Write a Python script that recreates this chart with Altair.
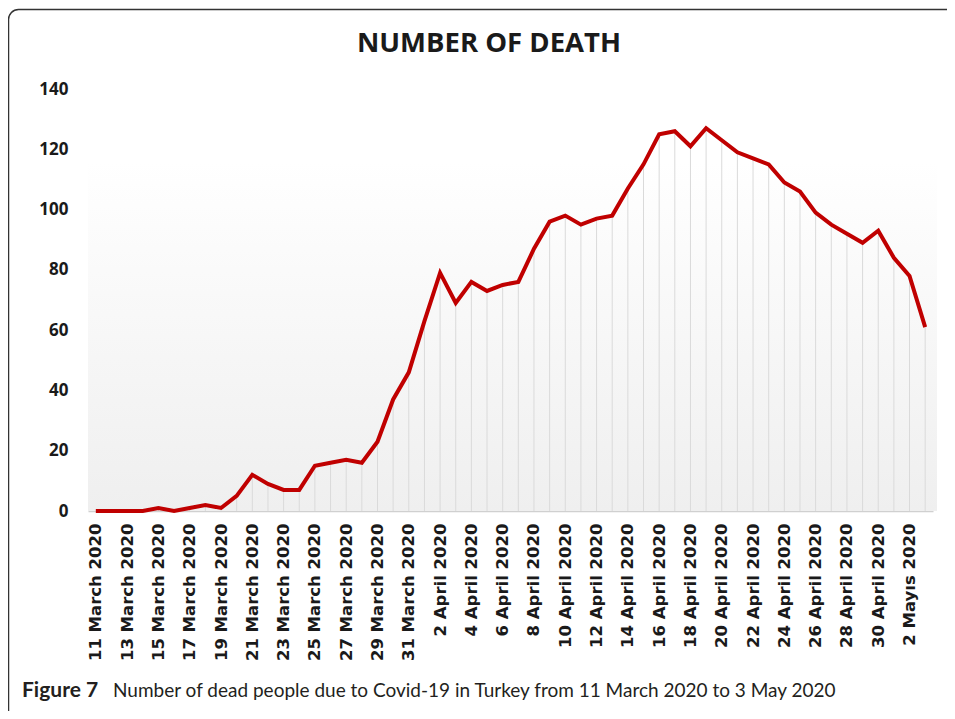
import altair as alt
import pandas as pd

days = [
    "11 March 2020", "12 March 2020", "13 March 2020", "14 March 2020", "15 March 2020",
    "16 March 2020", "17 March 2020", "18 March 2020", "19 March 2020", "20 March 2020",
    "21 March 2020", "22 March 2020", "23 March 2020", "24 March 2020", "25 March 2020",
    "26 March 2020", "27 March 2020", "28 March 2020", "29 March 2020", "30 March 2020",
    "31 March 2020", "1 April 2020", "2 April 2020", "3 April 2020", "4 April 2020",
    "5 April 2020", "6 April 2020", "7 April 2020", "8 April 2020", "9 April 2020",
    "10 April 2020", "11 April 2020", "12 April 2020", "13 April 2020", "14 April 2020",
    "15 April 2020", "16 April 2020", "17 April 2020", "18 April 2020", "19 April 2020",
    "20 April 2020", "21 April 2020", "22 April 2020", "23 April 2020", "24 April 2020",
    "25 April 2020", "26 April 2020", "27 April 2020", "28 April 2020", "29 April 2020",
    "30 April 2020", "1 Mayıs 2020", "2 Mayıs 2020", "3 Mayıs 2020",
]

deaths = [
    0, 0, 0, 0, 1, 0, 1, 2, 1, 5,
    12, 9, 7, 7, 15, 16, 17, 16, 23, 37,
    46, 63, 79, 69, 76, 73, 75, 76, 87, 96,
    98, 95, 97, 98, 107, 115, 125, 126, 121, 127,
    123, 119, 117, 115, 109, 106, 99, 95, 92, 89,
    93, 84, 78, 61,
]

shown_labels = days[::2]
y_ticks = [0, 20, 40, 60, 80, 100, 120, 140]

title_text = "NUMBER OF DEATH"
caption_bold = "Figure 7"
caption_text = "Number of dead people due to Covid-19 in Turkey from 11 March 2020 to 3 May 2020"

W, H = 845, 422

df = pd.DataFrame({"day": days, "deaths": deaths})
one = pd.DataFrame({"a": [0]})

x_enc = alt.X(
    "day:N",
    sort=days,
    scale=alt.Scale(type="point", padding=0.5),
    axis=alt.Axis(
        title=None,
        values=shown_labels,
        labelAngle=-90,
        labelFont="DejaVu Sans",
        labelFontWeight="bold",
        labelFontSize=16.5,
        labelColor="#1a1a1a",
        labelPadding=12,
        ticks=False,
        grid=False,
        domainColor="#d0d0d0",
        domainWidth=1.5,
        labelOverlap=False,
    ),
)
y_enc = alt.Y(
    "deaths:Q",
    scale=alt.Scale(domain=[0, 140], nice=False),
    axis=alt.Axis(
        title=None,
        values=y_ticks,
        labelFont="Open Sans",
        labelFontWeight="bold",
        labelFontSize=17,
        labelColor="#1a1a1a",
        labelPadding=20,
        ticks=False,
        grid=False,
        domain=False,
    ),
)

bg = alt.Chart(one).mark_rect(
    fill=alt.Gradient(
        gradient="linear",
        stops=[
            alt.GradientStop(color="#ffffff", offset=0),
            alt.GradientStop(color="#efefef", offset=1),
        ],
        x1=0, x2=0, y1=0, y2=1,
    )
).encode(x=alt.value(0), x2=alt.value(849), y=alt.value(72), y2=alt.value(H))

drops = alt.Chart(df).mark_rule(color="#dadada", strokeWidth=1).encode(
    x=x_enc, y=y_enc, y2=alt.datum(0)
)

line = alt.Chart(df).mark_line(color="#c00000", strokeWidth=4).encode(x=x_enc, y=y_enc)

title = alt.Chart(one).mark_text(
    text=title_text, font="Open Sans", fontWeight="bold", fontSize=27.5,
    color="#1a1a1a", align="center", baseline="alphabetic",
).encode(x=alt.value(401), y=alt.value(-37))

cap1 = alt.Chart(one).mark_text(
    text=caption_bold, font="Lato", fontWeight="bold", fontSize=21,
    color="#231f20", align="left", baseline="alphabetic",
).encode(x=alt.value(-66), y=alt.value(608))

cap2 = alt.Chart(one).mark_text(
    text=caption_text, font="Lato", fontSize=19,
    color="#231f20", align="left", baseline="alphabetic",
).encode(x=alt.value(25), y=alt.value(608))

frame = alt.Chart(one).mark_rect(
    fillOpacity=0, stroke="#333333", strokeWidth=1.5, cornerRadius=10
).encode(x=alt.value(-79.5), x2=alt.value(960), y=alt.value(-79.5), y2=alt.value(720))

chart = alt.layer(bg, drops, line, title, cap1, cap2, frame).properties(
    width=W,
    height=H,
    autosize=alt.AutoSizeParams(type="none"),
    padding={"left": 80, "top": 81, "right": 14, "bottom": 200},
    background="white",
).configure_view(stroke=None)

chart.save("out.html", embed_options={"renderer": "svg", "actions": False})
